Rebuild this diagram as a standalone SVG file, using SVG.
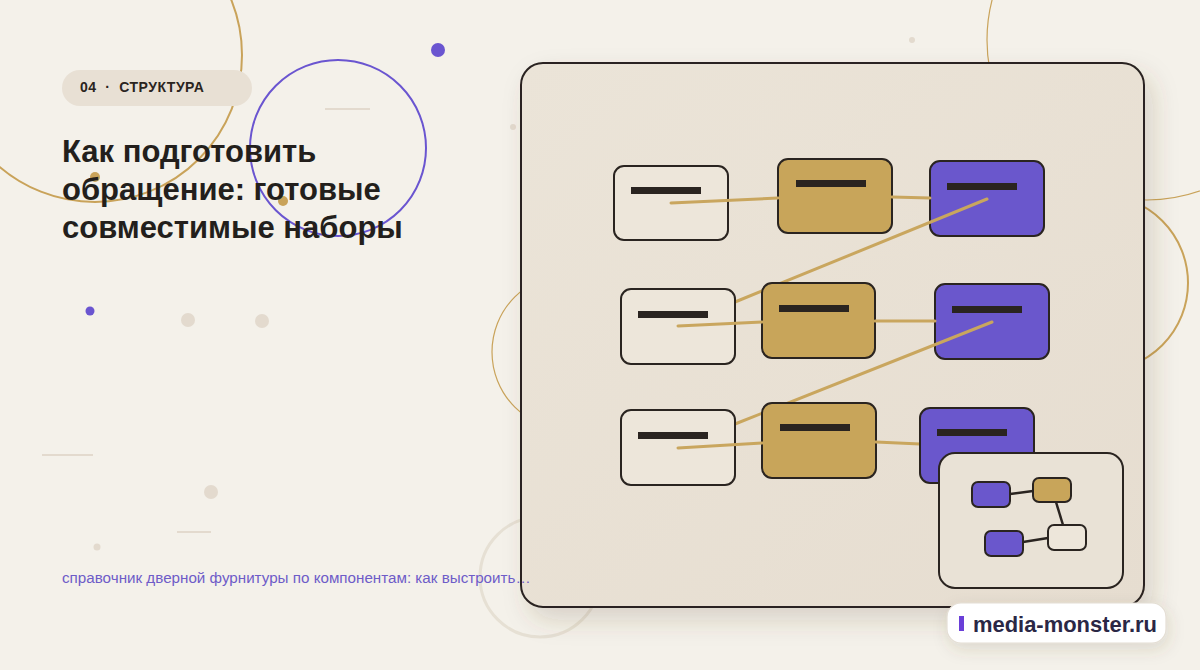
<svg xmlns="http://www.w3.org/2000/svg" width="1200" height="670" viewBox="0 0 1200 670">
<defs>
<style>
.node{stroke:#2a2420;stroke-width:2}
.nw{fill:#ede6da}
.ng{fill:#c8a55a}
.np{fill:#6a57cc}
.bar{fill:#2a2420}
.con{stroke:#c9a65e;stroke-width:3;fill:none;stroke-linecap:round}
.ink{stroke:#2a2420;stroke-width:2.5;fill:none}
.deco{fill:#e3dace}
.gl{stroke:#e3dace;stroke-width:2}
</style>
<linearGradient id="pg" x1="0" y1="0" x2="1" y2="1">
<stop offset="0" stop-color="#ebe4d8"/>
<stop offset="1" stop-color="#e6ddd0"/>
</linearGradient>
<filter id="sh" x="-10%" y="-10%" width="130%" height="130%">
<feDropShadow dx="8" dy="12" stdDeviation="12" flood-color="#5a4a30" flood-opacity="0.18"/>
</filter>
<filter id="sh2" x="-20%" y="-40%" width="140%" height="200%">
<feDropShadow dx="2" dy="6" stdDeviation="8" flood-color="#5a4a30" flood-opacity="0.15"/>
</filter>
</defs>
<rect width="1200" height="670" fill="#f4f1ea"/>
<g id="decor">
<circle cx="95" cy="55" r="147" fill="none" stroke="#c9a35a" stroke-width="2"/>
<circle cx="1147" cy="40" r="160" fill="none" stroke="#c9a35a" stroke-width="1.2"/>
<circle cx="1100" cy="283" r="88" fill="none" stroke="#c9a35a" stroke-width="2"/>
<circle cx="570" cy="352" r="78" fill="none" stroke="#c9a35a" stroke-width="1.2"/>
<circle cx="540" cy="577" r="60" fill="none" stroke="#e6e0d4" stroke-width="3"/>
<circle cx="338" cy="148" r="88" fill="none" stroke="#6a55d0" stroke-width="2"/>
<circle cx="95" cy="177" r="5" fill="#c9a35a"/>
<circle cx="283" cy="201" r="5" fill="#c9a35a"/>
<circle cx="438" cy="50" r="7" fill="#6a55d0"/>
<circle cx="90" cy="311" r="4.5" fill="#6a55d0"/>
<circle cx="513" cy="127" r="3" class="deco"/>
<circle cx="912" cy="40" r="3" class="deco"/>
<circle cx="188" cy="320" r="7" class="deco"/>
<circle cx="262" cy="321" r="7" class="deco"/>
<circle cx="211" cy="492" r="7" class="deco"/>
<circle cx="97" cy="547" r="3.5" class="deco"/>
<line x1="325" y1="109" x2="370" y2="109" class="gl"/>
<line x1="42" y1="455" x2="93" y2="455" class="gl" stroke-width="1.2"/>
<line x1="177" y1="532" x2="211" y2="532" class="gl"/>
</g>
<g id="label">
<rect x="62" y="70" width="190" height="36" rx="18" fill="#e8e0d4"/>
<text x="80" y="92" font-family="Liberation Sans, Arial, sans-serif" font-size="14" font-weight="bold" fill="#2a2420" letter-spacing="0.5" xml:space="preserve">04  ·  СТРУКТУРА</text>
</g>
<g id="title" font-family="Liberation Sans, Arial, sans-serif" font-size="31" font-weight="bold" fill="#231f1c">
<text x="62" y="162">Как подготовить</text>
<text x="62" y="200">обращение: готовые</text>
<text x="62" y="238">совместимые наборы</text>
</g>
<g id="panel">
<rect x="521" y="63" width="623" height="544" rx="22" fill="url(#pg)" stroke="#2a2420" stroke-width="2" filter="url(#sh)"/>
</g>
<text id="subtitle" x="62" y="583" font-family="Liberation Sans, Arial, sans-serif" font-size="15.2" fill="#6e5cc8">справочник дверной фурнитуры по компонентам: как выстроить…</text>
<g id="row1">
<g id="a1"><rect x="614" y="166" width="114" height="74" rx="10" class="node nw"/><rect x="631" y="187" width="70" height="7" class="bar"/></g>
<g id="b1"><rect x="778" y="159" width="114" height="74" rx="10" class="node ng"/><rect x="796" y="180" width="70" height="7" class="bar"/></g>
<g id="c1"><rect x="930" y="161" width="114" height="75" rx="10" class="node np"/><rect x="947" y="183" width="70" height="7" class="bar"/></g>
</g>
<g id="connectors1">
<line x1="671" y1="203" x2="778" y2="198" class="con"/>
<line x1="892" y1="197" x2="930" y2="198" class="con"/>
<line x1="987" y1="199" x2="735" y2="302" class="con"/>
</g>
<g id="row2">
<g id="a2"><rect x="621" y="289" width="114" height="75" rx="10" class="node nw"/><rect x="638" y="311" width="70" height="7" class="bar"/></g>
<g id="b2"><rect x="762" y="283" width="113" height="75" rx="10" class="node ng"/><rect x="779" y="305" width="70" height="7" class="bar"/></g>
<g id="c2"><rect x="935" y="284" width="114" height="75" rx="10" class="node np"/><rect x="952" y="306" width="70" height="7" class="bar"/></g>
</g>
<g id="connectors2">
<line x1="678" y1="326" x2="762" y2="322" class="con"/>
<line x1="875" y1="321" x2="935" y2="321" class="con"/>
<line x1="992" y1="322" x2="735" y2="424" class="con"/>
</g>
<g id="row3">
<g id="a3"><rect x="621" y="410" width="114" height="75" rx="10" class="node nw"/><rect x="638" y="432" width="70" height="7" class="bar"/></g>
<g id="b3"><rect x="762" y="403" width="114" height="75" rx="10" class="node ng"/><rect x="780" y="424" width="70" height="7" class="bar"/></g>
</g>
<g id="connectors3">
<line x1="678" y1="448" x2="762" y2="443" class="con"/>
<line x1="876" y1="442" x2="920" y2="444" class="con"/>
</g>
<g id="c3"><rect x="920" y="408" width="114" height="75" rx="10" class="node np"/><rect x="937" y="429" width="70" height="7" class="bar"/></g>
<g id="inset">
<rect x="939" y="453" width="184" height="135" rx="16" fill="#e9e2d6" stroke="#2a2420" stroke-width="2"/>
<g id="inset-links">
<line x1="1010" y1="494" x2="1033" y2="491" class="ink"/>
<line x1="1056" y1="502" x2="1063" y2="525" class="ink"/>
<line x1="1023" y1="542" x2="1048" y2="538" class="ink"/>
</g>
<rect x="972" y="482" width="38" height="25" rx="6" class="node np"/>
<rect x="1033" y="478" width="38" height="24" rx="6" class="node ng"/>
<rect x="985" y="531" width="38" height="25" rx="6" class="node np"/>
<rect x="1048" y="525" width="38" height="25" rx="6" class="node nw"/>
</g>
<g id="watermark">
<rect x="947" y="603" width="219" height="40" rx="14" fill="#ffffff" stroke="#e4ded4" stroke-width="1.2" filter="url(#sh2)"/>
<rect x="959" y="616" width="5" height="15" fill="#6a3fd8"/>
<text x="973" y="632" font-family="Liberation Sans, Arial, sans-serif" font-size="22" font-weight="bold" fill="#2a2745" textLength="184" lengthAdjust="spacingAndGlyphs">media-monster.ru</text>
</g>
</svg>
